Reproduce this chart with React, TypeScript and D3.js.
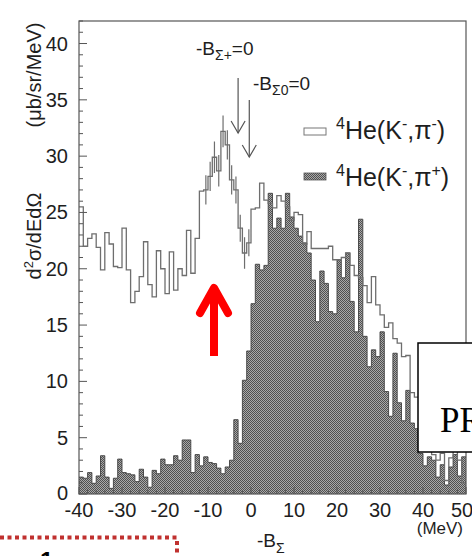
import React from 'react';
import * as d3 from 'd3';

// 1 MeV bins starting at -40 MeV
const binStart = -40;
const binWidth = 1;

// 4He(K-,pi-) : open histogram
const piMinus = [
  25.5, 22.0, 22.7, 23.1, 21.9, 19.9, 23.2, 22.2, 20.2, 20.1,
  23.6, 19.9, 17.0, 18.0, 19.3, 22.4, 18.6, 17.5, 21.6, 20.0,
  17.8, 21.5, 18.1, 20.0, 19.4, 23.4, 19.6, 22.7, 26.9, 27.0,
  28.2, 29.9, 28.7, 32.2, 31.0, 27.9, 27.0, 23.6, 21.4, 22.3,
  25.3, 25.4, 27.6, 26.1, 25.8, 25.4, 26.5, 26.0, 25.5, 24.3,
  25.0, 24.8, 22.2, 23.3, 21.8, 21.8, 21.8, 21.8, 22.0, 20.8,
  20.8, 21.0, 21.4, 20.3, 19.4, 19.2, 18.5, 17.0, 19.3, 16.8,
  15.9, 14.8, 15.2, 13.8, 13.4, 12.2, 12.3, 9.0, 8.6, 5.0,
  4.5, 3.8, 3.5, 3.0, 3.6, 1.2, 3.2, 3.8, 3.0, 1.0,
];

// 4He(K-,pi+) : filled histogram
const piPlus = [
  1.5, 1.4, 1.9, 0.95, 1.6, 3.4, 1.5, 0.5, 1.4, 3.1,
  1.9, 1.8, 1.7, 1.1, 2.2, 1.5, 0.6, 2.1, 1.8, 3.1,
  2.6, 2.6, 3.4, 3.0, 4.8, 4.8, 1.9, 3.5, 2.5, 3.3,
  2.8, 2.7, 2.3, 1.8, 2.4, 3.0, 6.6, 4.5, 10.1, 12.7,
  16.9, 20.4, 19.9, 20.3, 26.7, 23.6, 24.5, 23.6, 26.7, 24.6,
  23.6, 22.9, 22.3, 21.4, 19.0, 15.3, 19.8, 18.7, 16.2, 16.0,
  20.8, 19.2, 21.4, 17.1, 14.4, 24.4, 14.0, 11.3, 12.8, 12.2,
  14.4, 9.1, 6.9, 12.5, 8.1, 6.5, 9.2, 6.3, 5.8, 3.6,
  2.5, 3.3, 3.0, 1.5, 2.6, 0.8, 2.4, 3.5, 1.6, 3.3,
];

// statistical error bars drawn on the pi- peak (bin start MeV, half length)
const errBins = [-11, -10, -9, -8, -7, -6, -5, -4, -3, -2, -1];
const errSizes = [1.3, 1.3, 1.4, 1.4, 1.4, 1.3, 1.3, 1.2, 1.2, 1.4, 1.2];

const xTicks = [-40, -30, -20, -10, 0, 10, 20, 30, 40, 50];
const yTicks = [0, 5, 10, 15, 20, 25, 30, 35, 40];

// thresholds marked with arrows (MeV)
const thresholdSub = ['Σ+', 'Σ0'];
const thresholdMeV = [-3.0, -0.4];

const FONT = '"Liberation Sans", Arial, Helvetica, sans-serif';
const INK = '#1e1e1e';

function stepPoints(vals: number[]): [number, number][] {
  const pts: [number, number][] = vals.map((v, i) => [binStart + i * binWidth, v]);
  pts.push([binStart + vals.length * binWidth, vals[vals.length - 1]]);
  return pts;
}

export default function App() {
  const W = 472;
  const H = 556;
  const left = 79, right = 466, top = 21, bottom = 494;

  const x = d3.scaleLinear().domain([-40, 50]).range([left, right]);
  const y = d3.scaleLinear().domain([0, 42]).range([bottom, top]);

  const area = d3.area<[number, number]>()
    .x(d => x(d[0]))
    .y0(y(0))
    .y1(d => y(d[1]))
    .curve(d3.curveStepAfter);
  const line = d3.line<[number, number]>()
    .x(d => x(d[0]))
    .y(d => y(d[1]))
    .curve(d3.curveStepAfter);

  const plusPts = stepPoints(piPlus);
  const minusPts = stepPoints(piMinus);

  const yMinor = d3.range(0, 43, 1);
  const xMinor = d3.range(-40, 51, 2);

  return (
    <svg width={W} height={H} style={{ position: 'absolute', left: 0, top: 0, background: '#fff' }}
      fontFamily={FONT}>
      <defs>
        <pattern id="halftone" width={2} height={2} patternUnits="userSpaceOnUse">
          <rect width={2} height={2} fill="#a9a9a9" />
          <rect width={1} height={1} fill="#505050" />
          <rect x={1} y={1} width={1} height={1} fill="#505050" />
        </pattern>
      </defs>

      {/* pi+ filled histogram */}
      <path d={area(plusPts) || ''} fill="url(#halftone)" />
      <path d={line(plusPts) || ''} fill="none" stroke="#404040" strokeWidth={0.9} />

      {/* pi- open histogram */}
      <path d={line(minusPts) || ''} fill="none" stroke="#6e6e6e" strokeWidth={1.3} />
      {errBins.map((b, i) => {
        const v = piMinus[b - binStart];
        const cx = x(b + binWidth / 2);
        return <line key={'e' + i} x1={cx} x2={cx} y1={y(v - errSizes[i])} y2={y(v + errSizes[i])}
          stroke="#6e6e6e" strokeWidth={1.2} />;
      })}

      {/* frame */}
      <rect x={left} y={top} width={right - left} height={bottom - top} fill="none" stroke="#555" strokeWidth={1.2} />

      {/* y ticks */}
      {yMinor.map(t => (
        <line key={'ym' + t} x1={left} x2={left + (t % 5 === 0 ? 8 : 4)} y1={y(t)} y2={y(t)}
          stroke="#555" strokeWidth={1} />
      ))}
      {yTicks.map(t => (
        <text key={'yt' + t} x={68} y={y(t) - (t === 0 ? 1 : 0)} dy="0.35em" textAnchor="end" fontSize={20} fill={INK}>{t}</text>
      ))}

      {/* x ticks */}
      {xMinor.map(t => (
        <line key={'xm' + t} x1={x(t)} x2={x(t)} y1={bottom} y2={bottom - (t % 10 === 0 ? 7 : 4)}
          stroke="#555" strokeWidth={1} />
      ))}
      {xTicks.map(t => (
        <text key={'xt' + t} x={x(t) - (t === 50 ? 4 : 0)} y={517} textAnchor="middle" fontSize={20} fill={INK}>{t}</text>
      ))}
      <text x={463} y={534} textAnchor="end" fontSize={17} fill={INK}>(MeV)</text>
      <text x={257} y={547} fontSize={19} fill={INK}>
        -B<tspan fontSize={14} dy={6}>Σ</tspan>
      </text>

      {/* y axis title */}
      <text transform="translate(41,236) rotate(-90)" textAnchor="middle" fontSize={20} fill={INK}>
        d<tspan fontSize={13} dy={-8}>2</tspan><tspan dy={8}>σ/dEdΩ</tspan>
      </text>
      <text transform="translate(41,75) rotate(-90)" textAnchor="middle" fontSize={20} fill={INK}>
        (μb/sr/MeV)
      </text>

      {/* threshold arrows */}
      {thresholdMeV.map((m, i) => {
        const ax = x(m);
        const y0 = i === 0 ? 78 : 100;
        const y1 = i === 0 ? 133 : 157;
        return (
          <g key={'th' + i} stroke="#555" strokeWidth={1.2} fill="none">
            <line x1={ax} x2={ax} y1={y0} y2={y1} />
            <polyline points={`${ax - 7},${y1 - 12} ${ax},${y1} ${ax + 7},${y1 - 12}`} />
          </g>
        );
      })}
      <text x={196} y={55} fontSize={19} fill={INK}>
        -B<tspan fontSize={14} dy={5}>{thresholdSub[0]}</tspan><tspan dy={-5}>=0</tspan>
      </text>
      <text x={253} y={90} fontSize={19} fill={INK}>
        -B<tspan fontSize={14} dy={5}>{thresholdSub[1]}</tspan><tspan dy={-5}>=0</tspan>
      </text>

      {/* legend */}
      <rect x={304} y={128} width={22} height={7} fill="#fff" stroke="#777" strokeWidth={1} />
      <text x={336} y={139} fontSize={25} fill={INK}>
        <tspan fontSize={16} dy={-10}>4</tspan><tspan dy={10}>He(K</tspan><tspan fontSize={16} dy={-10}>-</tspan>
        <tspan dy={10}>,π</tspan><tspan fontSize={16} dy={-10}>-</tspan><tspan dy={10}>)</tspan>
      </text>
      <rect x={304} y={173} width={22} height={7} fill="url(#halftone)" stroke="#555" strokeWidth={0.8} />
      <text x={336} y={186} fontSize={25} fill={INK}>
        <tspan fontSize={16} dy={-10}>4</tspan><tspan dy={10}>He(K</tspan><tspan fontSize={16} dy={-10}>-</tspan>
        <tspan dy={10}>,π</tspan><tspan fontSize={16} dy={-10}>+</tspan><tspan dy={10}>)</tspan>
      </text>

      {/* red arrow annotation */}
      <g stroke="#ff0000" strokeWidth={8} fill="none" strokeLinecap="round" strokeLinejoin="round">
        <line x1={214} x2={214} y1={356} y2={292} strokeLinecap="butt" />
        <polyline points="200,313 214,288 228,313" />
      </g>

      {/* overlaid box */}
      <rect x={418} y={343} width={70} height={109} fill="#fff" stroke="#000" strokeWidth={1.5} />
      <text x={440} y={432} fontSize={35} fontFamily='"Liberation Serif", "Times New Roman", serif' fill="#000">PR</text>

      {/* red dotted bracket at the bottom */}
      <g stroke="#c0312f" strokeWidth={4} fill="none" strokeDasharray="4,3.5">
        <line x1={0} x2={177} y1={537.5} y2={537.5} />
        <line x1={177} x2={177} y1={541} y2={560} />
      </g>
      <text x={40} y={569} fontSize={24} fontWeight="bold" fill="#000">1</text>
    </svg>
  );
}
